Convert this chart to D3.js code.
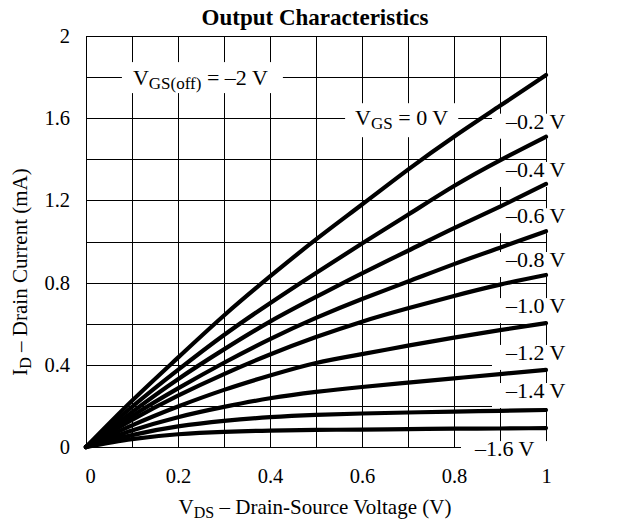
<!DOCTYPE html>
<html>
<head>
<meta charset="utf-8">
<script src="https://cdn.jsdelivr.net/npm/d3@7"></script>
<style>
  body { margin: 0; background: #fff; }
  svg { display: block; font-family: "Liberation Serif", "Times New Roman", serif; }
</style>
</head>
<body>
<svg id="chart" width="618" height="525"></svg>
<script>
// drain-source voltage samples (V)
const vds = [0, 0.1, 0.2, 0.3, 0.4, 0.5, 0.6, 0.7, 0.8, 0.9, 1.0];

// drain current (mA) per gate voltage
const id0   = [0, 0.225, 0.435, 0.64, 0.83, 1.01, 1.18, 1.35, 1.51, 1.66, 1.81];
const idM02 = [0, 0.195, 0.375, 0.545, 0.70, 0.847, 0.99, 1.13, 1.27, 1.395, 1.51];
const idM04 = [0, 0.17, 0.33, 0.475, 0.61, 0.73, 0.845, 0.955, 1.065, 1.17, 1.28];
const idM06 = [0, 0.15, 0.285, 0.41, 0.525, 0.628, 0.72, 0.805, 0.89, 0.97, 1.05];
const idM08 = [0, 0.132, 0.25, 0.355, 0.45, 0.535, 0.61, 0.675, 0.735, 0.79, 0.837];
const idM10 = [0, 0.105, 0.197, 0.278, 0.348, 0.409, 0.452, 0.493, 0.532, 0.569, 0.603];
const idM12 = [0, 0.08, 0.145, 0.195, 0.237, 0.268, 0.292, 0.313, 0.334, 0.355, 0.375];
const idM14 = [0, 0.058, 0.1, 0.127, 0.145, 0.156, 0.163, 0.168, 0.172, 0.176, 0.18];
const idM16 = [0, 0.038, 0.062, 0.074, 0.08, 0.083, 0.085, 0.087, 0.089, 0.09, 0.092];

const curves = [id0, idM02, idM04, idM06, idM08, idM10, idM12, idM14, idM16];
const curveLabels = [null, "–0.2 V", "–0.4 V", "–0.6 V", "–0.8 V", "–1.0 V", "–1.2 V", "–1.4 V", "–1.6 V"];

const xTicks = [0, 0.2, 0.4, 0.6, 0.8, 1];
const yTicks = [0, 0.4, 0.8, 1.2, 1.6, 2];
const xTickLabels = ["0", "0.2", "0.4", "0.6", "0.8", "1"];
const yTickLabels = ["0", "0.4", "0.8", "1.2", "1.6", "2"];

const svg = d3.select("#chart");
const x = d3.scaleLinear().domain([0, 1]).range([86, 546]);
const y = d3.scaleLinear().domain([0, 2]).range([447, 36]);

// grid
const grid = svg.append("g").attr("stroke", "#000").attr("stroke-width", 1);
grid.selectAll(".vg")
  .data(d3.range(0, 11).map(i => i / 10))
  .join("line")
  .attr("x1", d => Math.round(x(d)) + 0.5)
  .attr("x2", d => Math.round(x(d)) + 0.5)
  .attr("y1", y(0)).attr("y2", y(2));
grid.selectAll(".hg")
  .data(d3.range(0, 11).map(i => i / 5))
  .join("line")
  .attr("y1", d => Math.round(y(d)) + 0.5)
  .attr("y2", d => Math.round(y(d)) + 0.5)
  .attr("x1", x(0)).attr("x2", x(1));

// axes (labels only)
const xAxis = svg.append("g")
  .attr("transform", `translate(0,${y(0)})`)
  .call(d3.axisBottom(x).tickValues(xTicks).tickSize(0).tickPadding(21)
    .tickFormat((d, i) => xTickLabels[i]));
const yAxis = svg.append("g")
  .attr("transform", `translate(${x(0)},0)`)
  .call(d3.axisLeft(y).tickValues(yTicks).tickSize(0).tickPadding(16)
    .tickFormat((d, i) => yTickLabels[i]));
[xAxis, yAxis].forEach(a => {
  a.select(".domain").remove();
  a.selectAll("text").attr("font-family", "Liberation Serif, serif")
    .attr("font-size", 20.5).attr("fill", "#000");
});
xAxis.select(".tick text").attr("dx", 4);

// white-backed annotation helper
function boxedLabel(parts, tx, ty, pad) {
  const g = svg.append("g");
  const t = g.append("text").attr("x", tx).attr("y", ty)
    .attr("font-size", 22).attr("fill", "#000");
  parts.forEach(p => {
    t.append("tspan").text(p.text)
      .attr("font-size", p.size || 22)
      .attr("dy", p.dy || 0);
  });
  const bb = t.node().getBBox();
  g.insert("rect", "text")
    .attr("x", bb.x - pad.l)
    .attr("y", ty - pad.t)
    .attr("width", (pad.r === Infinity ? 600 : bb.width + pad.l + pad.r))
    .attr("height", pad.t + pad.b)
    .attr("fill", "#fff");
  return g;
}

boxedLabel([
  { text: "V" }, { text: "GS(off)", size: 17, dy: 4 }, { text: " = –2 V", dy: -4 }
], x(0.102), y(1.8) + 8, { l: 11, r: 15, t: 23, b: 8 });

boxedLabel([
  { text: "V" }, { text: "GS", size: 17, dy: 4 }, { text: " = 0 V", dy: -4 }
], x(0.585), y(1.6) + 7, { l: 10, r: 10, t: 22, b: 12 });

const labelDy = [0, -8, -7, -8, -8, -10, -10, -12, 28];
curves.forEach((c, i) => {
  if (!curveLabels[i]) return;
  const tx = i === 8 ? 475 : 506;
  boxedLabel([{ text: curveLabels[i] }], tx, y(c[c.length - 1]) + labelDy[i],
    { l: 13, r: Infinity, t: 15, b: 10 });
});

// curves
const line = d3.line()
  .x((d, i) => x(vds[i]))
  .y(d => y(d))
  .curve(d3.curveNatural);
svg.append("g").selectAll("path")
  .data(curves)
  .join("path")
  .attr("d", line)
  .attr("fill", "none")
  .attr("stroke", "#000")
  .attr("stroke-width", 4.2)
  .attr("stroke-linecap", "round")
  .attr("stroke-linejoin", "round");

// title
svg.append("text")
  .attr("x", 315).attr("y", 25)
  .attr("text-anchor", "middle")
  .attr("font-size", 23).attr("font-weight", "bold")
  .text("Output Characteristics");

// x title
const xt = svg.append("text")
  .attr("x", 315).attr("y", 514)
  .attr("text-anchor", "middle")
  .attr("font-size", 21);
xt.append("tspan").text("V");
xt.append("tspan").text("DS").attr("font-size", 16).attr("dy", 4);
xt.append("tspan").text(" – Drain-Source Voltage (V)").attr("dy", -4);

// y title
const yt = svg.append("text")
  .attr("transform", "translate(27,272) rotate(-90)")
  .attr("text-anchor", "middle")
  .attr("font-size", 21);
yt.append("tspan").text("I");
yt.append("tspan").text("D").attr("font-size", 16).attr("dy", 4);
yt.append("tspan").text(" – Drain Current (mA)").attr("dy", -4);
</script>
</body>
</html>
